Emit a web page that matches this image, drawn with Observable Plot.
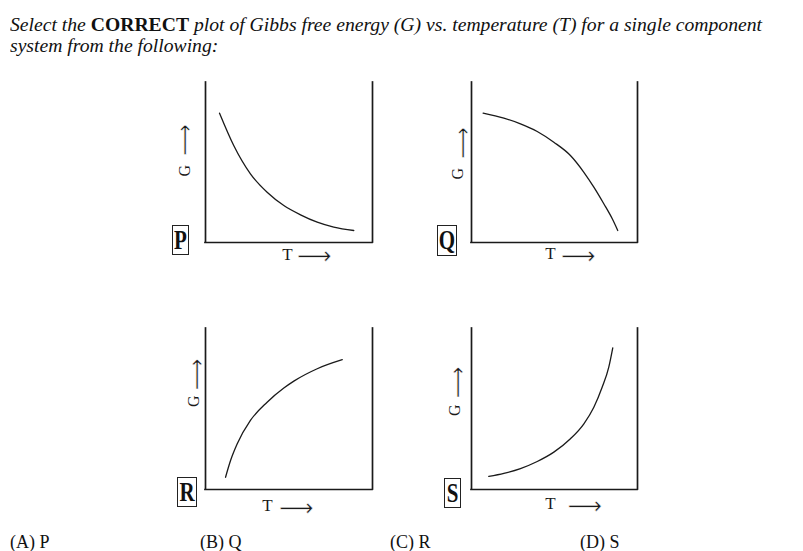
<!DOCTYPE html>
<html><head><meta charset="utf-8">
<script src="https://cdn.jsdelivr.net/npm/d3@7"></script>
<script src="https://cdn.jsdelivr.net/npm/@observablehq/plot@0.6"></script>
<style>
body{margin:0;background:#fff;}
#wrap{position:relative;width:803px;height:551px;overflow:hidden;background:#fff;font-family:"Liberation Serif","Times New Roman",serif;color:#111;}
.title{position:absolute;left:10px;white-space:nowrap;font-style:italic;font-size:19px;line-height:19px;transform-origin:0 0;}
.title b{font-style:normal;}
.panel{position:absolute;}
.tag{position:absolute;border:1.5px solid #222;box-sizing:border-box;display:flex;align-items:center;justify-content:center;font-weight:bold;font-size:21px;line-height:21px;}
.tag span{display:inline-block;transform:scaleY(1.35);}
.opt{position:absolute;font-size:18px;line-height:18px;}
</style></head><body><div id="wrap"></div><script>
// ---- data ----
const panelNames = ["P", "Q", "R", "S"];
const tP = [0.84, 1.69, 2.69, 3.69, 4.69, 5.69, 6.69, 7.68, 8.88];
const gP = [8.08, 6.06, 4.29, 3.14, 2.31, 1.73, 1.27, 0.96, 0.75];
const tQ = [0.70, 1.95, 2.95, 3.96, 4.96, 5.96, 6.77, 7.37, 7.97, 8.48, 8.81];
const gQ = [8.08, 7.77, 7.42, 6.94, 6.27, 5.44, 4.39, 3.46, 2.42, 1.48, 0.75];
const tR = [1.20, 1.50, 1.90, 2.69, 3.69, 4.69, 5.29, 6.69, 8.19];
const gR = [0.76, 1.80, 2.84, 4.29, 5.42, 6.30, 6.73, 7.50, 8.06];
const tS = [1.04, 1.95, 2.95, 3.96, 4.96, 5.96, 6.77, 7.37, 7.87, 8.27, 8.51];
const gS = [0.81, 1.00, 1.30, 1.74, 2.32, 3.15, 4.08, 5.11, 6.35, 7.60, 8.80];
const axisDomain = [0, 10];
const xName = "T";
const yName = "G";
const arrowGlyph = "\u27F6";
const optionLabels = ["(A) P", "(B) Q", "(C) R", "(D) S"];
const titleLine1 = "Select the <b>CORRECT</b> plot of Gibbs free energy (G) vs. temperature (T) for a single component";
const titleLine2 = "system from the following:";

const series = {P: [tP, gP], Q: [tQ, gQ], R: [tR, gR], S: [tS, gS]};

// ---- layout ----
// g: [letter dx, letter dy, arrow dx, arrow dy]; t: [letter dx, arrow dx, letter dy, arrow dy]
const layout = {
  P: {L: 205, R: 372, T: 82, B: 242, g: [-21, 14, -26, -7], t: [-1.5, 25.5, 17, 16], tag: [172, 225, 17, 30]},
  Q: {L: 471, R: 637, T: 82, B: 242, g: [-14, 17, -14, -4], t: [-4, 24, 16.5, 15.5], tag: [437, 225, 20, 31]},
  R: {L: 205, R: 372, T: 328, B: 489, g: [-11.5, -2, -14, -19], t: [-21.5, 7.5, 21.5, 20.5], tag: [177, 477, 20, 30]},
  S: {L: 471, R: 637, T: 328, B: 489, g: [-17, 7, -19, -11], t: [-4, 30.5, 19.5, 18.5], tag: [444, 478, 17, 30]}
};
const gArrowSize = 22, tArrowSize = 24;
const arrowShift = 0.23; // em offset of the arrow shaft from the text middle line
const optX = [10, 200, 390, 580];
const font = "'Liberation Serif', 'DejaVu Sans', serif";
const ink = "#1a1a1a";

const wrap = document.getElementById("wrap");

// title
[[titleLine1, 15], [titleLine2, 36]].forEach(([html, top], i) => {
  const d = document.createElement("div");
  d.className = "title";
  d.style.top = top + "px";
  d.innerHTML = html;
  wrap.appendChild(d);
  if (i === 0) {
    const w = d.getBoundingClientRect().width;
    d.dataset.sx = 752 / w;
  }
});
const titles = wrap.querySelectorAll(".title");
const sx = +titles[0].dataset.sx;
titles.forEach(t => t.style.transform = `scaleX(${sx})`);

// panels
const mL = 60, mR = 30, mT = 10, mB = 35;
panelNames.forEach(name => {
  const lay = layout[name];
  const [ts, gs] = series[name];
  const data = ts.map((t, i) => ({t, g: gs[i]}));
  const W = lay.R - lay.L + mL + mR, H = lay.B - lay.T + mT + mB;
  const arrowStyle = {fill: ink, fontFamily: "DejaVu Sans", stroke: "white", strokeWidth: 0.45, paintOrder: "normal"};
  const svg = Plot.plot({
    width: W, height: H,
    marginLeft: mL, marginRight: mR, marginTop: mT, marginBottom: mB,
    x: {domain: axisDomain, axis: null},
    y: {domain: axisDomain, axis: null},
    style: {background: "transparent", fontFamily: font, overflow: "visible"},
    marks: [
      Plot.ruleX(axisDomain, {stroke: ink, strokeWidth: 1.7, strokeLinecap: "square"}),
      Plot.ruleY([axisDomain[0]], {stroke: ink, strokeWidth: 1.7, strokeLinecap: "square"}),
      Plot.line(data, {x: "t", y: "g", curve: "monotone-x", stroke: ink, strokeWidth: 1.3}),
      Plot.text([yName], {text: d => d, frameAnchor: "left", rotate: -90, dx: lay.g[0], dy: lay.g[1], fontSize: 16, fill: ink}),
      Plot.text([arrowGlyph], {text: d => d, frameAnchor: "left", rotate: -90, dx: lay.g[2] + arrowShift * gArrowSize, dy: lay.g[3], fontSize: gArrowSize, ...arrowStyle}),
      Plot.text([xName], {text: d => d, frameAnchor: "bottom", dx: lay.t[0], dy: lay.t[2], fontSize: 17, fill: ink}),
      Plot.text([arrowGlyph], {text: d => d, frameAnchor: "bottom", dx: lay.t[1], dy: lay.t[3] + arrowShift * tArrowSize, fontSize: tArrowSize, ...arrowStyle})
    ]
  });
  svg.classList.add("panel");
  svg.style.left = (lay.L - mL) + "px";
  svg.style.top = (lay.T - mT) + "px";
  wrap.appendChild(svg);

  const tag = document.createElement("div");
  tag.className = "tag";
  const [x, y, w, h] = lay.tag;
  Object.assign(tag.style, {left: x + "px", top: y + "px", width: w + "px", height: h + "px"});
  tag.innerHTML = `<span>${name}</span>`;
  wrap.appendChild(tag);
});

// options
optionLabels.forEach((s, i) => {
  const d = document.createElement("div");
  d.className = "opt";
  d.style.left = optX[i] + "px";
  d.style.top = "533px";
  d.textContent = s;
  wrap.appendChild(d);
});
</script></body></html>
